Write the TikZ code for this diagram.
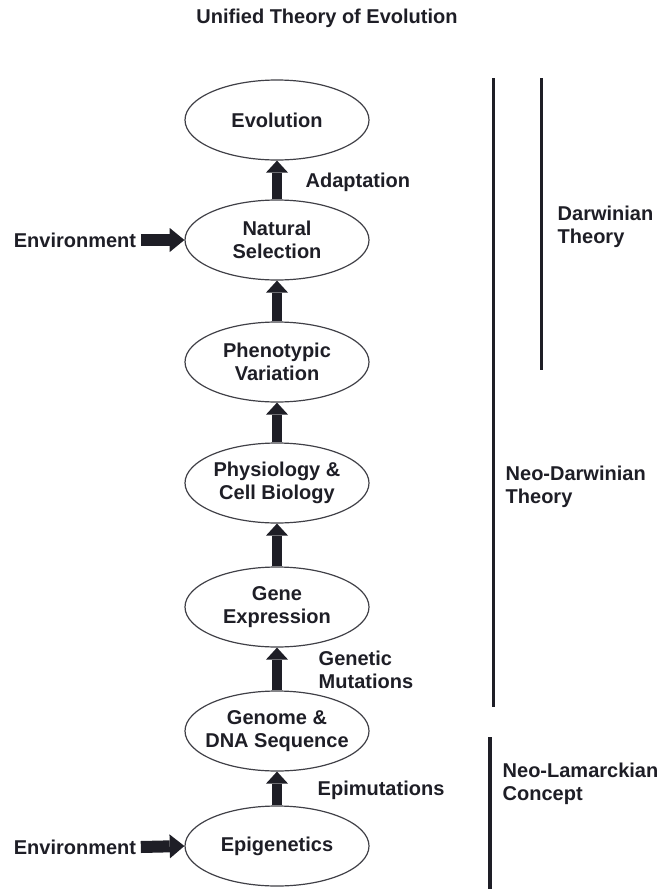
\documentclass[tikz,border=0pt]{standalone}
\usepackage{fontspec}
\setmainfont{Liberation Sans}
\usetikzlibrary{shapes.geometric,arrows.meta}
\definecolor{inkcol}{HTML}{1E1E26}

\begin{document}
\begin{tikzpicture}[x=0.75pt, y=-0.75pt,
  every node/.style={font=\bfseries\fontsize{15}{17.25}\selectfont, text=inkcol},
  stage/.style={ellipse, draw=inkcol!85, line width=0.9pt, minimum width=138pt, minimum height=60pt, inner sep=0pt, align=center},
  uparrow/.style={draw=inkcol, line width=7.5pt, -{Triangle[length=9pt,width=16.5pt,line width=0pt]}},
  sidearrow/.style={draw=inkcol, line width=9pt, -{Triangle[length=11pt,width=18pt,line width=0pt]}},
  bar/.style={draw=inkcol, line width=2.25pt}]
  \useasboundingbox (0,0) rectangle (663,889);

  % Title
  \node (title) at (327,18) {Unified Theory of Evolution};

  % Stages, top to bottom
  \node[stage] (evol)    at (277,120) {Evolution};
  \node[stage] (natsel)  at (277,240) {Natural\\Selection};
  \node[stage] (pheno)   at (277,362) {Phenotypic\\Variation};
  \node[stage] (physio)  at (277,483) {Physiology \&\\Cell Biology};
  \node[stage] (geneexp) at (277,607) {Gene\\Expression};
  \node[stage, inner xsep=-8pt] (genome) at (277,731) {Genome \&\\DNA Sequence};
  \node[stage] (epigen)  at (277,846) {Epigenetics};

  % Upward arrows
  \foreach \lo/\hi in {natsel/evol, pheno/natsel, physio/pheno, geneexp/physio, genome/geneexp, epigen/genome} {
    \draw[uparrow] (\lo.north) -- (\hi.south);
  }

  % Arrow labels
  \node[anchor=west] (adapt) at (301,182) {Adaptation};
  \node[anchor=west, align=left] (genmut) at (314,670) {Genetic\\Mutations};
  \node[anchor=west] (epimut) at (313,790) {Epimutations};

  % Environment inputs
  \node (envtop) at (75,240) {Environment};
  \node (envbot) at (75,847) {Environment};
  \draw[sidearrow] (envtop.east) -- (natsel.west);
  \draw[sidearrow] (envbot.east) -- (epigen.west);

  % Theory bars
  \draw[bar] (493,78) -- (493,707);
  \draw[bar] (541,78) -- (541,370);
  \draw[bar, line width=3.5pt] (490,737) -- (490,889);
  \node[anchor=west, align=left] (darwin) at (553,227) {Darwinian\\Theory};
  \node[anchor=west, align=left] (neodarwin) at (501,487) {Neo-Darwinian\\Theory};
  \node[anchor=west, align=left] (neolamarck) at (498,784) {Neo-Lamarckian\\Concept};
\end{tikzpicture}
\end{document}
